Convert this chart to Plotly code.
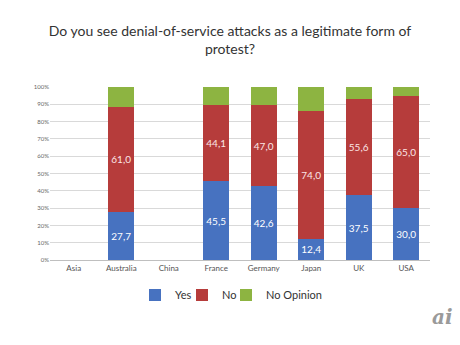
import plotly.graph_objects as go

categories = ["Asia", "Australia", "China", "France", "Germany", "Japan", "UK", "USA"]
yes_vals = [None, 27.7, None, 45.5, 42.6, 12.4, 37.5, 30.0]
no_vals = [None, 61.0, None, 44.1, 47.0, 74.0, 55.6, 65.0]
noop_vals = [None, 11.3, None, 10.4, 10.4, 13.6, 6.9, 5.0]
tick_vals = [0, 10, 20, 30, 40, 50, 60, 70, 80, 90, 100]
tick_text = [f"{v}%" for v in tick_vals]

def fmt(v):
    return "" if v is None else f"{v:.1f}".replace(".", ",")

fig = go.Figure()
fig.add_trace(go.Bar(name="Yes", x=categories, y=yes_vals, marker_color="#4772C0",
                     marker_line_width=0, legend="legend",
                     text=[fmt(v) for v in yes_vals], textposition="inside",
                     insidetextanchor="middle",
                     textfont=dict(color="#ffffff", size=10, family="Lato")))
fig.add_trace(go.Bar(name="No", x=categories, y=no_vals, marker_color="#B63C3B",
                     marker_line_width=0, legend="legend2",
                     text=[fmt(v) for v in no_vals], textposition="inside",
                     insidetextanchor="middle",
                     textfont=dict(color="#fbe6e6", size=10, family="Lato")))
fig.add_trace(go.Bar(name="No Opinion", x=categories, y=noop_vals, marker_color="#8DB441",
                     marker_line_width=0, hoverinfo="y", legend="legend3"))

leg_common = dict(orientation="h", xref="container", yref="container", xanchor="left",
                  yanchor="middle", y=50 / 345, font=dict(size=11, color="#333333"),
                  itemwidth=30, bgcolor="rgba(0,0,0,0)")

fig.update_layout(
    barmode="stack",
    bargap=0.45,
    width=460, height=345,
    margin=dict(l=50, r=30, t=87, b=85, autoexpand=False),
    paper_bgcolor="white", plot_bgcolor="white",
    title=dict(text="Do you see denial-of-service attacks as a legitimate form of<br>protest?",
               x=0.5, xanchor="center", y=0.895, yanchor="top",
               font=dict(family="Lato", size=14, color="#333333")),
    font=dict(family="Lato", color="#555555"),
    uniformtext=dict(minsize=8, mode="show"),
    legend=dict(x=135 / 460, **leg_common),
    legend2=dict(x=182 / 460, **leg_common),
    legend3=dict(x=226 / 460, **leg_common),
    showlegend=True,
)
fig.update_yaxes(range=[0, 100], tickvals=tick_vals, ticktext=tick_text,
                 showgrid=True, gridcolor="#d9d9d9", gridwidth=1,
                 tickfont=dict(size=6, color="#666666"), zeroline=False,
                 ticks="", ticklen=0)
fig.update_xaxes(showline=True, linecolor="#bfbfbf", linewidth=1,
                 tickfont=dict(size=8, color="#555555"), ticks="")
fig.add_annotation(text="<i><b>ai</b></i>", xref="paper", yref="paper",
                   x=1.0, y=-0.25, xanchor="left", yanchor="top", showarrow=False,
                   font=dict(size=20, color="#9a9a9a", family="DejaVu Serif"))

fig.write_html("out.html")
